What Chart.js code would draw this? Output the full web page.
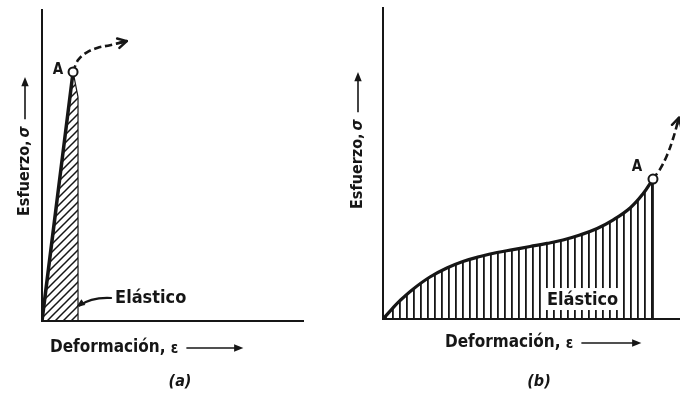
<!DOCTYPE html>
<html><head><meta charset="utf-8">
<script src="https://cdn.jsdelivr.net/npm/chart.js@4/dist/chart.umd.min.js"></script>
<style>
html,body{margin:0;padding:0;background:#fff;}
#wrap{position:relative;width:680px;height:394px;overflow:hidden;background:#fff;}
.p{position:absolute;top:0;width:340px;height:394px;}
#pa{left:0}#pb{left:340px}
</style></head><body>
<div id="wrap"><div class="p" id="pa"><canvas id="ca"></canvas></div><div class="p" id="pb"><canvas id="cb"></canvas></div></div>
<script>
// ---------- data (arbitrary units, 0..100 on each axis) ----------
// (a) brittle: straight elastic line up to A
const strainA = [0, 11.9];
const stressA = [0, 80.1];
const hatchStrainA = [0, 11.9, 13.8, 13.8];
const hatchStressA = [0, 80.1, 72.0, 0];
const beyondStrainA = [11.9, 13.8, 16.9, 21.1, 26.1, 31.0];
const beyondStressA = [80.1, 83.9, 86.2, 87.8, 88.7, 89.7];
// (b) non-linear elastic curve up to A
const strainB = [0, 3.0, 5.7, 10.1, 15.8, 21.5, 26.9, 32.7, 38.4, 43.8, 49.5, 55.2, 60.6, 66.3, 72.1, 77.4, 83.2, 87.5, 90.9];
const stressB = [0, 3.2, 5.9, 9.6, 13.5, 16.4, 18.5, 20.1, 21.4, 22.3, 23.3, 24.3, 25.4, 27.0, 29.1, 31.8, 35.7, 40.2, 45.0];
const beyondStrainB = [90.9, 93.3, 95.6, 97.6, 99.3];
const beyondStressB = [45.0, 48.2, 52.6, 57.8, 63.5];
// texts
const xTitle = 'Deformación, ';
const xSymbol = 'ε';
const yTitle = 'Esfuerzo, ';
const ySymbol = 'σ';
const pointLabel = 'A';
const regionLabel = 'Elástico';
const panelLabels = ['(a)', '(b)'];

// ---------- helpers ----------
const INK = '#161616';
const FONT = '"DejaVu Sans Condensed", "Liberation Sans Narrow", "Arial Narrow", sans-serif';
const pts = (xs, ys) => xs.map((v, i) => ({x: v, y: ys[i]}));

function setupCanvas(id){
  const c = document.getElementById(id);
  c.width = 340; c.height = 394; c.style.width = '340px'; c.style.height = '394px';
  return c;
}
function makePattern(ctx, kind){
  const c = document.createElement('canvas');
  const g = c.getContext('2d');
  if (kind === 'diag') {
    const s = 8; c.width = s; c.height = s;
    g.strokeStyle = INK; g.lineWidth = 1.5;
    g.beginPath();
    g.moveTo(-1, s + 1); g.lineTo(s + 1, -1);
    g.moveTo(-2, 2); g.lineTo(2, -2);
    g.moveTo(s - 2, s + 2); g.lineTo(s + 2, s - 2);
    g.stroke();
  } else {
    c.width = 7; c.height = 4;
    g.fillStyle = INK; g.fillRect(3, 0, 1.8, 4);
  }
  return ctx.createPattern(c, 'repeat');
}
function arrowHead(ctx, x, y, ang, len, spread, filled){
  ctx.beginPath();
  ctx.moveTo(x - len * Math.cos(ang - spread), y - len * Math.sin(ang - spread));
  ctx.lineTo(x, y);
  ctx.lineTo(x - len * Math.cos(ang + spread), y - len * Math.sin(ang + spread));
  if (filled) { ctx.closePath(); ctx.fill(); } else { ctx.stroke(); }
}
function endArrow(chart, dsIndex){
  const ctx = chart.ctx;
  const d = chart.getDatasetMeta(dsIndex).data;
  const p1 = d[d.length - 2], p2 = d[d.length - 1];
  const ang = Math.atan2(p2.y - p1.y, p2.x - p1.x);
  const tx = p2.x + 4 * Math.cos(ang), ty = p2.y + 4 * Math.sin(ang);
  ctx.lineWidth = 2.5; ctx.lineCap = 'round'; ctx.lineJoin = 'round';
  ctx.beginPath(); ctx.moveTo(p2.x - 3 * Math.cos(ang), p2.y - 3 * Math.sin(ang)); ctx.lineTo(tx, ty); ctx.stroke();
  arrowHead(ctx, tx, ty, ang, 10, 0.5, false);
}
function xAxisTitle(ctx, left, yc, arrowLen){
  ctx.font = 'bold 17px ' + FONT;
  ctx.textAlign = 'left'; ctx.textBaseline = 'middle';
  ctx.fillText(xTitle, left, yc);
  let w = ctx.measureText(xTitle).width;
  ctx.font = 'bold 15px ' + FONT;
  ctx.fillText(xSymbol, left + w, yc + 1);
  w += ctx.measureText(xSymbol).width;
  const a0 = left + w + 8, a1 = a0 + arrowLen;
  ctx.lineWidth = 1.6; ctx.lineCap = 'butt';
  ctx.beginPath(); ctx.moveTo(a0, yc); ctx.lineTo(a1 - 3, yc); ctx.stroke();
  arrowHead(ctx, a1, yc, 0, 10, 0.38, true);
}
function yAxisTitle(ctx, xc, bottom, arrowTop){
  ctx.save();
  ctx.translate(xc, bottom); ctx.rotate(-Math.PI / 2);
  ctx.font = 'bold 16px ' + FONT;
  ctx.textAlign = 'left'; ctx.textBaseline = 'middle';
  ctx.fillText(yTitle, 0, 0);
  let w = ctx.measureText(yTitle).width;
  ctx.font = 'italic bold 16px ' + FONT;
  ctx.fillText(ySymbol, w - 2, 0);
  w += ctx.measureText(ySymbol).width;
  const a0 = w + 5, a1 = bottom - arrowTop;
  ctx.lineWidth = 1.6;
  ctx.beginPath(); ctx.moveTo(a0, 0); ctx.lineTo(a1 - 3, 0); ctx.stroke();
  arrowHead(ctx, a1, 0, 0, 10, 0.38, true);
  ctx.restore();
}
function panelTitle(ctx, text, xc, yc){
  ctx.font = 'italic bold 16px ' + FONT;
  ctx.textAlign = 'center'; ctx.textBaseline = 'middle';
  ctx.fillText(text, xc, yc);
}
function pointName(chart, dsIndex, dx, dy){
  const ctx = chart.ctx;
  const p = chart.getDatasetMeta(dsIndex).data[0];
  ctx.font = 'bold 15px ' + FONT;
  ctx.textAlign = 'center'; ctx.textBaseline = 'middle';
  ctx.fillText(pointLabel, p.x + dx, p.y + dy);
}

function baseOptions(pad){
  const axis = {type: 'linear', min: 0, max: 100, ticks: {display: false},
    grid: {display: false, drawTicks: false}, border: {display: true, color: INK, width: 2}};
  return {
    responsive: false, animation: false, devicePixelRatio: 1, events: [],
    layout: {padding: pad, autoPadding: false},
    plugins: {legend: {display: false}, tooltip: {enabled: false}},
    scales: {x: {...axis}, y: {...axis}},
    elements: {point: {radius: 0}}
  };
}

// ---------- panel (a) ----------
const canA = setupCanvas('ca');
const ctxA = canA.getContext('2d');
const annotA = {
  id: 'annotA',
  afterDatasetsDraw(chart){
    const {ctx, chartArea: ca, scales: {x, y}} = chart;
    ctx.save();
    ctx.fillStyle = INK; ctx.strokeStyle = INK;
    endArrow(chart, 2);
    pointName(chart, 0, -15, -2);
    // "Elástico" with leader arrow
    const tx = x.getPixelForValue(28), ty = y.getPixelForValue(7.4);
    ctx.font = 'bold 18px ' + FONT;
    ctx.textAlign = 'left'; ctx.textBaseline = 'middle';
    ctx.fillText(regionLabel, tx, ty);
    const ex = x.getPixelForValue(13.2), ey = y.getPixelForValue(4.6);
    const cx = tx - 24, cy = ty - 1;
    ctx.lineWidth = 2.2; ctx.lineCap = 'round';
    ctx.beginPath(); ctx.moveTo(tx - 4, ty); ctx.quadraticCurveTo(cx, cy, ex + 3, ey - 1); ctx.stroke();
    arrowHead(ctx, ex, ey, Math.atan2(ey - cy, ex - cx), 9, 0.4, true);
    xAxisTitle(ctx, ca.left + 8, ca.bottom + 27, 57);
    yAxisTitle(ctx, ca.left - 17, 216, 77);
    panelTitle(ctx, panelLabels[0], 180, 382);
    ctx.restore();
  }
};
new Chart(canA, {
  type: 'line',
  data: {datasets: [
    {label: 'A', data: pts([strainA[1]], [stressA[1]]), showLine: false, pointRadius: 4.5,
      pointBackgroundColor: '#fff', pointBorderColor: INK, pointBorderWidth: 2},
    {label: 'curva', data: pts(strainA, stressA), borderColor: INK, borderWidth: 3.5, pointRadius: 0, fill: false},
    {label: 'más allá', data: pts(beyondStrainA, beyondStressA), borderColor: INK, borderWidth: 2.6,
      borderDash: [7, 4], tension: 0.4, pointRadius: 0, fill: false},
    {label: 'elástico', data: pts(hatchStrainA, hatchStressA), borderColor: INK, borderWidth: 1.2,
      pointRadius: 0, fill: 'origin', backgroundColor: makePattern(ctxA, 'diag')}
  ]},
  options: baseOptions({left: 42, top: 10, right: 37, bottom: 73}),
  plugins: [annotA]
});

// ---------- panel (b) ----------
const canB = setupCanvas('cb');
const ctxB = canB.getContext('2d');
const annotB = {
  id: 'annotB',
  afterDatasetsDraw(chart){
    const {ctx, chartArea: ca, scales: {x, y}} = chart;
    ctx.save();
    ctx.fillStyle = INK; ctx.strokeStyle = INK;
    endArrow(chart, 2);
    pointName(chart, 0, -16, -12);
    // "Elástico" on a white box inside the hatching
    const tx = x.getPixelForValue(67.2), ty = y.getPixelForValue(6.1);
    ctx.font = 'bold 18px ' + FONT;
    const w = ctx.measureText(regionLabel).width;
    ctx.fillStyle = '#fff';
    ctx.fillRect(tx - w / 2 - 4, ty - 12, w + 8, 22);
    ctx.fillStyle = INK;
    ctx.textAlign = 'center'; ctx.textBaseline = 'middle';
    ctx.fillText(regionLabel, tx, ty);
    xAxisTitle(ctx, ca.left + 62, ca.bottom + 24, 60);
    yAxisTitle(ctx, ca.left - 25, 209, 72);
    panelTitle(ctx, panelLabels[1], 199, 382);
    ctx.restore();
  }
};
new Chart(canB, {
  type: 'line',
  data: {datasets: [
    {label: 'A', data: pts([strainB[strainB.length - 1]], [stressB[stressB.length - 1]]), showLine: false, pointRadius: 4.5,
      pointBackgroundColor: '#fff', pointBorderColor: INK, pointBorderWidth: 2},
    {label: 'curva', data: pts(strainB, stressB), borderColor: INK, borderWidth: 3.2, pointRadius: 0,
      tension: 0.4, fill: 'origin', backgroundColor: makePattern(ctxB, 'vert')},
    {label: 'más allá', data: pts(beyondStrainB, beyondStressB), borderColor: INK, borderWidth: 2.6,
      borderDash: [7, 4], tension: 0.4, pointRadius: 0, fill: false},
    {label: 'borde', data: pts([strainB[strainB.length - 1], strainB[strainB.length - 1]], [0, stressB[stressB.length - 1]]),
      borderColor: INK, borderWidth: 1.8, pointRadius: 0, fill: false}
  ]},
  options: baseOptions({left: 43, top: 8, right: 0, bottom: 75}),
  plugins: [annotB]
});
</script>
</body></html>
